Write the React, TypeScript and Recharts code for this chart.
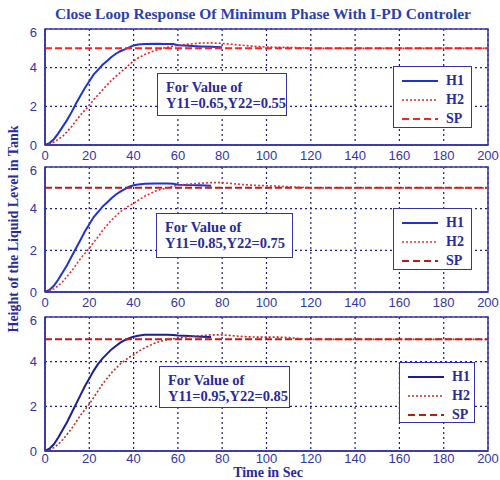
import { LineChart, Line, XAxis, YAxis, CartesianGrid, ReferenceArea } from 'recharts';

// time axis (s) shared by every panel
const time = [0, 2, 4, 6, 8, 10, 12, 14, 16, 18, 20, 22, 24, 26, 28, 30, 32, 34, 36, 38, 40, 42, 45, 50, 55, 58, 60, 65, 70, 75, 80, 85, 90, 95, 100, 105, 110, 115, 120, 140, 160, 180, 200];
const setPoint = [5, 5, 5, 5, 5, 5, 5, 5, 5, 5, 5, 5, 5, 5, 5, 5, 5, 5, 5, 5, 5, 5, 5, 5, 5, 5, 5, 5, 5, 5, 5, 5, 5, 5, 5, 5, 5, 5, 5, 5, 5, 5, 5];

// panel 1 : Y11=0.65, Y22=0.55
const h1A = [0, 0.1, 0.3, 0.6, 0.95, 1.3, 1.7, 2.15, 2.55, 2.95, 3.3, 3.65, 3.9, 4.15, 4.35, 4.55, 4.72, 4.85, 4.95, 5.05, 5.15, 5.2, 5.23, 5.24, 5.23, 5.22, 5.16, 5.13, 5.1, 5.08, 5.05, null, null, null, null, null, null, null, null, null, null, null, null];
const h2A = [0, 0.05, 0.15, 0.3, 0.45, 0.7, 0.95, 1.25, 1.55, 1.8, 2.05, 2.35, 2.6, 2.85, 3.1, 3.35, 3.55, 3.75, 3.95, 4.15, 4.35, 4.5, 4.68, 4.9, 5.05, 5.12, 5.15, 5.22, 5.27, 5.28, 5.25, 5.2, 5.15, 5.1, 5.07, 5.05, 5.05, 5.03, 5.0, 5.0, 5.0, 5.0, 5.0];
// panel 2 : Y11=0.85, Y22=0.75
const h1B = [0, 0.1, 0.3, 0.6, 0.95, 1.3, 1.7, 2.1, 2.5, 2.9, 3.25, 3.6, 3.85, 4.1, 4.3, 4.5, 4.68, 4.82, 4.94, 5.05, 5.12, 5.16, 5.2, 5.21, 5.21, 5.2, 5.15, 5.13, 5.12, 5.1, null, null, null, null, null, null, null, null, null, null, null, null, null];
const h2B = [0, 0.05, 0.15, 0.3, 0.5, 0.75, 1.0, 1.3, 1.6, 1.85, 2.1, 2.4, 2.65, 2.95, 3.2, 3.45, 3.65, 3.85, 4.0, 4.15, 4.25, 4.4, 4.6, 4.85, 5.0, 5.08, 5.12, 5.18, 5.22, 5.25, 5.25, 5.2, 5.15, 5.12, 5.1, 5.08, 5.05, 5.03, 5.0, 5.0, 5.0, 5.0, 5.0];
// panel 3 : Y11=0.95, Y22=0.85
const h1C = [0, 0.1, 0.3, 0.6, 0.95, 1.3, 1.7, 2.1, 2.5, 2.9, 3.25, 3.6, 3.9, 4.15, 4.35, 4.55, 4.7, 4.85, 4.96, 5.05, 5.12, 5.16, 5.2, 5.2, 5.2, 5.19, 5.17, 5.15, 5.12, 5.1, null, null, null, null, null, null, null, null, null, null, null, null, null];
const h2C = [0, 0.05, 0.15, 0.3, 0.5, 0.75, 1.0, 1.3, 1.6, 1.85, 2.1, 2.4, 2.7, 3.0, 3.25, 3.5, 3.7, 3.9, 4.05, 4.2, 4.3, 4.45, 4.62, 4.85, 4.98, 5.03, 5.06, 5.12, 5.16, 5.2, 5.2, 5.16, 5.12, 5.1, 5.1, 5.1, 5.08, 5.03, 5.0, 5.0, 5.0, 5.0, 5.0];

const xTicks = [0, 20, 40, 60, 80, 100, 120, 140, 160, 180, 200];
const yTicks = [0, 2, 4, 6];

const BLUE = '#3434a6';
const SERIF = '"Liberation Serif", "DejaVu Serif", serif';
const SANS = '"Liberation Sans", Arial, sans-serif';

type PanelProps = {
  top: number;
  bottom: number;
  h1: (number | null)[];
  h2: (number | null)[];
  label: string;
  note: { left: number; top: number; width: number; height: number };
  legend: { left: number; top: number; width: number; height: number };
  colors: { h1: string; h2: string; sp: string };
  tickGap?: number;
};

function Panel({ top, bottom, h1, h2, label, note, legend, colors, tickGap = 0 }: PanelProps) {
  const data = time.map((t, i) => ({ t, h1: h1[i], h2: h2[i], sp: setPoint[i] }));
  const plotH = bottom - top;
  const rows = [
    { name: 'H1', color: colors.h1, dash: undefined, w: 2 },
    { name: 'H2', color: colors.h2, dash: '2 2', w: 1.6 },
    { name: 'SP', color: colors.sp, dash: '7 4', w: 2 },
  ];
  return (
    <>
      <div style={{ position: 'absolute', left: 0, top: top - 5 }}>
        <LineChart width={500} height={plotH + 30} data={data} margin={{ top: 5, right: 12, left: 0, bottom: 0 }}>
          <CartesianGrid stroke="#1c1c86" strokeWidth={1.2} strokeDasharray="2 3" />
          <XAxis
            dataKey="t"
            type="number"
            domain={[0, 200]}
            ticks={xTicks}
            height={25}
            stroke={BLUE}
            strokeWidth={1.5}
            tickLine={false}
            tickMargin={tickGap}
            tick={{ fill: BLUE, fontSize: 13, fontFamily: SANS }}
          />
          <YAxis
            type="number"
            domain={[0, 6]}
            ticks={yTicks}
            width={45}
            stroke={BLUE}
            strokeWidth={1.5}
            tickLine={false}
            tick={{ fill: BLUE, fontSize: 13, fontFamily: SANS }}
          />
          <ReferenceArea x1={0} x2={200} y1={0} y2={6} fill="none" stroke={BLUE} strokeWidth={1.5} />
          <Line dataKey="h1" stroke={colors.h1} strokeWidth={2} dot={false} isAnimationActive={false} />
          <Line dataKey="sp" stroke={colors.sp} strokeWidth={2} strokeDasharray="7 3" dot={false} isAnimationActive={false} />
          <Line dataKey="h2" stroke={colors.h2} strokeWidth={1.6} strokeDasharray="2 2" dot={false} isAnimationActive={false} />
        </LineChart>
      </div>
      <div
        style={{
          position: 'absolute',
          left: note.left,
          top: note.top,
          width: note.width,
          height: note.height,
          boxSizing: 'border-box',
          border: `1.5px solid ${BLUE}`,
          background: '#fff',
          color: '#2a2a9a',
          fontFamily: SERIF,
          fontWeight: 'bold',
          fontSize: 14.5,
          lineHeight: '16px',
          padding: '5px 0 0 8px',
        }}
      >
        <div>For Value of</div>
        <div>{label}</div>
      </div>
      <div
        style={{
          position: 'absolute',
          left: legend.left,
          top: legend.top,
          width: legend.width,
          height: legend.height,
          boxSizing: 'border-box',
          border: `1.5px solid ${BLUE}`,
          background: '#fff',
          padding: '4px 0 0 8px',
        }}
      >
        {rows.map((r) => (
          <div key={r.name} style={{ display: 'flex', alignItems: 'center', height: 19 }}>
            <svg width={36} height={6}>
              <line x1={0} y1={3} x2={36} y2={3} stroke={r.color} strokeWidth={r.w} strokeDasharray={r.dash} />
            </svg>
            <span style={{ marginLeft: 8, color: '#2a2a9a', fontFamily: SERIF, fontWeight: 'bold', fontSize: 14 }}>{r.name}</span>
          </div>
        ))}
      </div>
    </>
  );
}

export default function App() {
  return (
    <div style={{ position: 'absolute', left: 0, top: 0, width: 500, height: 480, background: '#fff', overflow: 'hidden' }}>
      <div
        style={{
          position: 'absolute',
          left: 0,
          width: 526,
          top: 5,
          textAlign: 'center',
          color: '#2d3fb0',
          fontFamily: SERIF,
          fontWeight: 'bold',
          fontSize: 15.5,
          lineHeight: '18px',
        }}
      >
        Close Loop Response Of Minimum Phase With I-PD Controler
      </div>
      <Panel
        top={29}
        bottom={145}
        h1={h1A}
        h2={h2A}
        label="Y11=0.65,Y22=0.55"
        note={{ left: 157, top: 73, width: 130, height: 43 }}
        legend={{ left: 393, top: 66, width: 79, height: 62 }}
        colors={{ h1: '#1f33d0', h2: '#e02525', sp: '#ff2020' }}
      />
      <Panel
        top={167}
        bottom={292}
        h1={h1B}
        h2={h2B}
        label="Y11=0.85,Y22=0.75"
        note={{ left: 156, top: 213, width: 137, height: 45 }}
        legend={{ left: 393, top: 208, width: 79, height: 62 }}
        colors={{ h1: '#1f33d0', h2: '#e83030', sp: '#c01818' }}
      />
      <Panel
        top={317}
        bottom={451}
        h1={h1C}
        h2={h2C}
        label="Y11=0.95,Y22=0.85"
        note={{ left: 159, top: 366, width: 131, height: 42 }}
        legend={{ left: 399, top: 362, width: 76, height: 61 }}
        colors={{ h1: '#1a1f95', h2: '#b83020', sp: '#c01818' }}
        tickGap={-3}
      />
      <div
        style={{
          position: 'absolute',
          left: 268 - 60,
          width: 120,
          top: 466,
          textAlign: 'center',
          color: '#2a2a9a',
          fontFamily: SERIF,
          fontWeight: 'bold',
          fontSize: 14,
          lineHeight: '14px',
        }}
      >
        Time in Sec
      </div>
      <div
        style={{
          position: 'absolute',
          left: 14 - 150,
          top: 229 - 9,
          width: 300,
          textAlign: 'center',
          transform: 'rotate(-90deg)',
          color: '#2a2a9a',
          fontFamily: SERIF,
          fontWeight: 'bold',
          fontSize: 14,
          lineHeight: '18px',
        }}
      >
        Height of the Liquid Level in Tank
      </div>
    </div>
  );
}
